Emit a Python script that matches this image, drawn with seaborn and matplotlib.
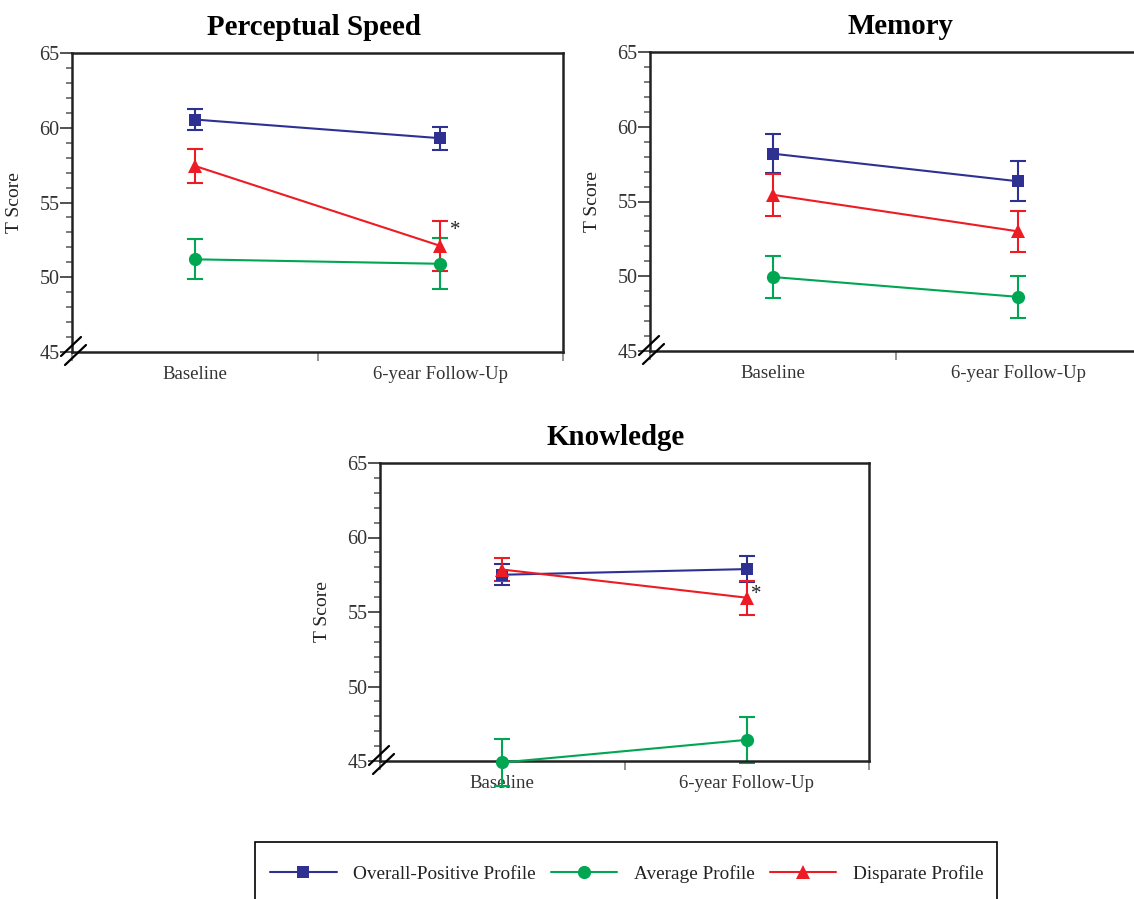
import numpy as np
import pandas as pd
import matplotlib
matplotlib.use('Agg')
import matplotlib.pyplot as plt
import matplotlib.transforms as mtransforms
from matplotlib.lines import Line2D
from matplotlib.patches import Rectangle
from matplotlib.ticker import MultipleLocator
import seaborn as sns

# ─── Data ────────────────────────────────────────────────────
TIMEPOINTS = ['Baseline', '6-year Follow-Up']
PROFILES   = ['Overall-Positive Profile', 'Average Profile', 'Disparate Profile']

# rows follow PROFILES, columns follow TIMEPOINTS
SPEED_MEAN  = [[60.55, 59.3], [51.2, 50.9], [57.45, 52.1]]
SPEED_ERR   = [[0.73, 0.77], [1.33, 1.7], [1.15, 1.65]]
MEMORY_MEAN = [[58.2, 56.35], [49.95, 48.62], [55.45, 53.0]]
MEMORY_ERR  = [[1.3, 1.33], [1.4, 1.4], [1.42, 1.37]]
KNOW_MEAN   = [[57.5, 57.88], [44.9, 46.42], [57.85, 55.96]]
KNOW_ERR    = [[0.72, 0.87], [1.55, 1.53], [0.78, 1.14]]

# asterisk: (timepoint index, profile index) flagged per panel
SPEED_STAR = (1, 2)
KNOW_STAR  = (1, 2)

COLORS  = ['#2E3192', '#00A651', '#ED1C24']
MARKERS = ['s', 'o', '^']
MSIZES  = [8.5, 9.5, 10]

sns.set_theme(style='white')
plt.rcParams['font.family'] = ['Liberation Serif', 'DejaVu Serif']
plt.rcParams['axes.edgecolor'] = '#222222'

fig = plt.figure(figsize=(11.34, 8.99), dpi=100)
W, H = 1134, 899
PT = 72 / 100  # points per pixel


def px_axes(left, top, right, bottom):
    return fig.add_axes([left / W, 1 - bottom / H, (right - left) / W, (bottom - top) / H])


def add_break(ax):
    trans = fig.dpi_scale_trans + mtransforms.ScaledTranslation(0, 0, ax.transAxes)
    for (x0, y0), (x1, y1) in [((-11, -4), (9, 15)), ((-7, -13), (14, 7))]:
        ln = Line2D([x0 / 100, x1 / 100], [y0 / 100, y1 / 100], transform=trans,
                    color='black', lw=1.6, clip_on=False, zorder=5)
        fig.add_artist(ln)


def draw_panel(ax, title, means, errs, title_dx=0, star=None, star_off=(0, 0)):
    rows = []
    for p, m in zip(PROFILES, means):
        for t, v in zip(TIMEPOINTS, m):
            rows.append({'Time': t, 'Profile': p, 'T Score': v})
    df = pd.DataFrame(rows)

    for i, (m, e) in enumerate(zip(means, errs)):
        eb = ax.errorbar(TIMEPOINTS, m, yerr=e, fmt='none', ecolor=COLORS[i],
                         elinewidth=1.5, capsize=6, capthick=1.5, zorder=2)
        for art in list(eb.lines[1]) + list(eb.lines[2]):
            art.set_clip_on(False)

    n_before = len(ax.lines)
    sns.lineplot(data=df, x='Time', y='T Score', hue='Profile', style='Profile',
                 hue_order=PROFILES, style_order=PROFILES,
                 palette=COLORS, markers=MARKERS, dashes=False,
                 markeredgewidth=0, lw=1.5, legend=False, ax=ax, zorder=3)
    for ln, ms in zip(ax.lines[n_before:], MSIZES):
        ln.set_markersize(ms)
        ln.set_clip_on(False)

    ax.set_xlim(-0.5, 1.5)
    ax.set_ylim(45, 65)
    ax.set_yticks([45, 50, 55, 60, 65])
    ax.yaxis.set_minor_locator(MultipleLocator(1))
    ax.set_xticks([0, 1])
    ax.set_xticklabels(TIMEPOINTS)
    ax.set_xticks([-0.5, 0.5, 1.5], minor=True)
    ax.tick_params(axis='y', which='major', direction='out', length=12 * PT, width=1.3,
                   color='#444444', labelsize=14.5, labelcolor='#333333', pad=0.5, left=True)
    ax.tick_params(axis='y', which='minor', direction='out', length=6 * PT, width=1.1,
                   color='#555555', left=True)
    ax.tick_params(axis='x', which='major', length=0, labelsize=13.5,
                   labelcolor='#333333', pad=10)
    ax.tick_params(axis='x', which='minor', direction='out', length=9 * PT, width=1.1,
                   color='#777777', bottom=True)
    for sp in ax.spines.values():
        sp.set_visible(True)
        sp.set_linewidth(1.8)
        sp.set_color('#222222')

    ax.set_xlabel('')
    ax.set_ylabel('T Score', fontsize=14, color='#222222', labelpad=12)
    ttl = ax.set_title(title, fontsize=20.8, fontweight='bold', color='black', pad=13)
    width_px = ax.get_position().width * W
    ttl.set_x(0.5 + title_dx / width_px)
    ax.grid(False)

    if star is not None:
        t, p = star
        ax.annotate('*', xy=(t, means[p][t]), xytext=star_off, textcoords='offset pixels',
                    fontsize=15, ha='center', va='center', color='#222222')
    add_break(ax)


ax1 = px_axes(72, 53, 563, 352)
draw_panel(ax1, 'Perceptual Speed', SPEED_MEAN, SPEED_ERR, title_dx=-4,
           star=SPEED_STAR, star_off=(15, 15))

ax2 = px_axes(650, 52, 1141, 351)
draw_panel(ax2, 'Memory', MEMORY_MEAN, MEMORY_ERR, title_dx=5)

ax3 = px_axes(380, 463, 869, 761)
draw_panel(ax3, 'Knowledge', KNOW_MEAN, KNOW_ERR, title_dx=-9,
           star=KNOW_STAR, star_off=(9, 3))

# legend box drawn by hand so it runs off the bottom edge like the original
fig.add_artist(Rectangle((255 / W, 1 - 910 / H), 742 / W, 68 / H, transform=fig.transFigure,
                         facecolor='none', edgecolor='black', lw=1.2, clip_on=False))
handles = [Line2D([], [], color=c, marker=m, markersize=ms, markeredgewidth=0, lw=1.5)
           for c, m, ms in zip(COLORS, MARKERS, MSIZES)]
leg = fig.legend(handles, PROFILES, loc='center left', bbox_to_anchor=(270 / W, 1 - 874 / H),
                 ncol=3, frameon=False, fontsize=13.9, borderpad=0, borderaxespad=0,
                 handlelength=3.45, handletextpad=0.85, columnspacing=0.78)
for txt in leg.get_texts():
    txt.set_color('#222222')

fig.savefig('out.png', dpi=100)
